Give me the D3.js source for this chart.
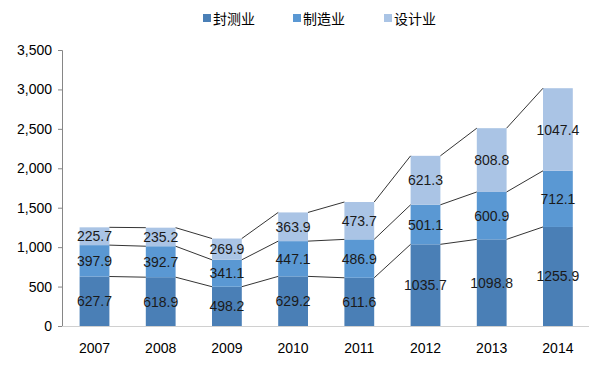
<!DOCTYPE html>
<html><head><meta charset="utf-8">
<script src="https://cdn.jsdelivr.net/npm/d3@7"></script>
<style>body{margin:0;background:#fff;}svg{display:block;}</style>
</head><body>
<svg id="c" width="589" height="366"></svg>
<script>
const years = ["2007","2008","2009","2010","2011","2012","2013","2014"];
const seriesNames = ["封测业","制造业","设计业"];
const packaging = [627.7,618.9,498.2,629.2,611.6,1035.7,1098.8,1255.9];
const manufacturing = [397.9,392.7,341.1,447.1,486.9,501.1,600.9,712.1];
const design = [225.7,235.2,269.9,363.9,473.7,621.3,808.8,1047.4];
const yTicks = [0,500,1000,1500,2000,2500,3000,3500];
const colors = ["#4a7fb6","#5a98d3","#aac4e5"];

const svg = d3.select("#c");
const x = d3.scaleBand().domain(years).range([61.4, 591]).paddingInner(0.55).paddingOuter(0.275);
const y = d3.scaleLinear().domain([0,3500]).range([326, 50]);
const font = "'Liberation Sans', Arial, sans-serif";

const rows = years.map((yr,i)=>({year:yr, s0:packaging[i], s1:manufacturing[i], s2:design[i]}));
const stack = d3.stack().keys(["s0","s1","s2"])(rows);

// y axis
const ya = svg.append("g").attr("transform","translate(62,0)")
  .call(d3.axisLeft(y).tickValues(yTicks).tickSize(4).tickFormat(d3.format(",")));
ya.select(".domain").attr("stroke","#868686");
ya.selectAll(".tick line").attr("stroke","#868686");
ya.selectAll(".tick text").attr("font-family",font).attr("font-size",14).attr("fill","#000").attr("x",-10);

// x axis line
svg.append("line").attr("x1",62).attr("x2",589).attr("y1",y(0)+0.5).attr("y2",y(0)+0.5).attr("stroke","#d0d0d0");

// bars
stack.forEach((layer,k)=>{
  svg.append("g").selectAll("rect").data(layer).join("rect")
    .attr("x",d=>x(d.data.year)).attr("width",x.bandwidth())
    .attr("y",d=>y(d[1])).attr("height",d=>y(d[0])-y(d[1]))
    .attr("fill",colors[k]);
});

// connector lines
stack.forEach((layer)=>{
  for(let i=0;i<layer.length-1;i++){
    const a=layer[i], b=layer[i+1];
    svg.append("line")
      .attr("x1",x(a.data.year)+x.bandwidth()).attr("y1",y(a[1]))
      .attr("x2",x(b.data.year)).attr("y2",y(b[1]))
      .attr("stroke","#000").attr("stroke-width",0.8);
  }
});

// labels
stack.forEach((layer,k)=>{
  svg.append("g").selectAll("text").data(layer).join("text")
    .attr("x",d=>x(d.data.year)+x.bandwidth()/2)
    .attr("y",d=>(y(d[0])+y(d[1]))/2+5)
    .attr("text-anchor","middle").attr("font-family",font).attr("font-size",14)
    .attr("fill","#1a1a1a")
    .text(d=>(d[1]-d[0]).toFixed(1));
});

// x labels
svg.append("g").selectAll("text").data(years).join("text")
  .attr("x",d=>x(d)+x.bandwidth()/2).attr("y",353)
  .attr("text-anchor","middle").attr("font-family",font).attr("font-size",14).attr("fill","#000")
  .text(d=>d);

// legend
const lg = svg.append("g");
const lx = [203, 293, 384];
seriesNames.forEach((n,k)=>{
  lg.append("rect").attr("x",lx[k]).attr("y",14).attr("width",8).attr("height",8).attr("fill",colors[k]);
  lg.append("text").attr("x",lx[k]+10).attr("y",23.5).attr("font-family","'Noto Sans CJK SC', sans-serif")
    .attr("font-size",14).attr("fill","#000").text(n);
});
</script>
</body></html>
